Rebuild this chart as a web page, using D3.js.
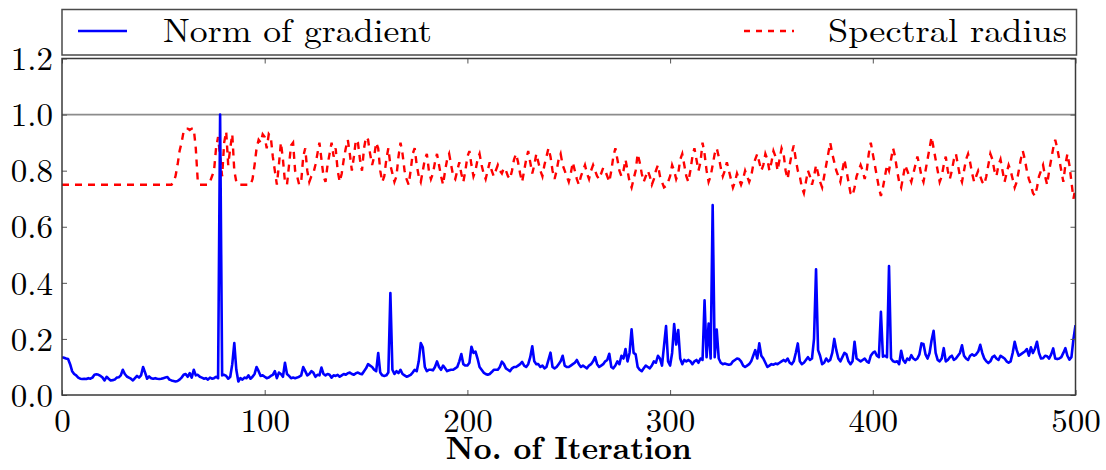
<!DOCTYPE html>
<html>
<head>
<meta charset="utf-8">
<script src="https://cdn.jsdelivr.net/npm/d3@7"></script>
<style>
  body { margin: 0; background: #fff; }
  text { font-family: "Latin Modern Roman", "CMU Serif", "Liberation Serif", serif; fill: #000; }
</style>
</head>
<body>
<script>
// iteration values, one per iteration 0..500
var gradNorm = [
  0.135, 0.133, 0.130, 0.128, 0.110, 0.085, 0.075, 0.070, 0.062, 0.058,
  0.057, 0.058, 0.057, 0.060, 0.058, 0.062, 0.072, 0.074, 0.072, 0.068,
  0.062, 0.052, 0.065, 0.058, 0.052, 0.053, 0.055, 0.062, 0.063, 0.070,
  0.090, 0.075, 0.066, 0.062, 0.058, 0.052, 0.060, 0.068, 0.062, 0.070,
  0.100, 0.080, 0.058, 0.066, 0.060, 0.058, 0.060, 0.058, 0.057, 0.058,
  0.060, 0.062, 0.064, 0.055, 0.052, 0.050, 0.048, 0.050, 0.055, 0.062,
  0.072, 0.075, 0.065, 0.078, 0.062, 0.090, 0.070, 0.072, 0.065, 0.062,
  0.058, 0.060, 0.055, 0.062, 0.058, 0.060, 0.065, 0.060, 1.000, 0.070,
  0.072, 0.068, 0.058, 0.065, 0.110, 0.185, 0.090, 0.048, 0.060, 0.055,
  0.062, 0.060, 0.070, 0.058, 0.065, 0.075, 0.100, 0.085, 0.068, 0.070,
  0.065, 0.060, 0.062, 0.068, 0.072, 0.085, 0.060, 0.080, 0.075, 0.065,
  0.115, 0.075, 0.068, 0.060, 0.062, 0.060, 0.062, 0.065, 0.070, 0.100,
  0.085, 0.070, 0.075, 0.085, 0.080, 0.065, 0.072, 0.070, 0.098, 0.075,
  0.070, 0.075, 0.072, 0.062, 0.070, 0.068, 0.072, 0.065, 0.070, 0.075,
  0.072, 0.078, 0.080, 0.075, 0.072, 0.078, 0.080, 0.076, 0.074, 0.085,
  0.095, 0.110, 0.105, 0.100, 0.090, 0.085, 0.150, 0.080, 0.070, 0.068,
  0.070, 0.080, 0.364, 0.090, 0.075, 0.085, 0.078, 0.090, 0.075, 0.070,
  0.065, 0.068, 0.072, 0.080, 0.090, 0.085, 0.120, 0.185, 0.170, 0.100,
  0.085, 0.090, 0.090, 0.088, 0.100, 0.120, 0.100, 0.090, 0.105, 0.095,
  0.085, 0.088, 0.090, 0.090, 0.095, 0.100, 0.120, 0.146, 0.110, 0.105,
  0.105, 0.115, 0.172, 0.150, 0.155, 0.130, 0.100, 0.090, 0.080, 0.075,
  0.072, 0.075, 0.082, 0.090, 0.090, 0.090, 0.100, 0.119, 0.110, 0.095,
  0.090, 0.085, 0.095, 0.100, 0.100, 0.105, 0.110, 0.118, 0.105, 0.100,
  0.110, 0.135, 0.174, 0.120, 0.110, 0.110, 0.100, 0.105, 0.095, 0.100,
  0.125, 0.151, 0.100, 0.095, 0.100, 0.110, 0.120, 0.140, 0.105, 0.100,
  0.100, 0.105, 0.110, 0.115, 0.125, 0.110, 0.100, 0.105, 0.100, 0.095,
  0.105, 0.110, 0.120, 0.135, 0.110, 0.100, 0.105, 0.110, 0.120, 0.125,
  0.147, 0.100, 0.095, 0.105, 0.120, 0.110, 0.140, 0.130, 0.164, 0.120,
  0.150, 0.234, 0.150, 0.145, 0.100, 0.090, 0.085, 0.095, 0.105, 0.100,
  0.095, 0.105, 0.120, 0.115, 0.140, 0.130, 0.105, 0.175, 0.246, 0.120,
  0.105, 0.150, 0.253, 0.180, 0.232, 0.130, 0.110, 0.125, 0.120, 0.125,
  0.120, 0.110, 0.120, 0.125, 0.115, 0.130, 0.125, 0.338, 0.135, 0.255,
  0.130, 0.677, 0.135, 0.233, 0.130, 0.115, 0.110, 0.112, 0.110, 0.108,
  0.110, 0.120, 0.125, 0.130, 0.128, 0.120, 0.105, 0.100, 0.105, 0.110,
  0.120, 0.140, 0.160, 0.130, 0.184, 0.140, 0.130, 0.115, 0.100, 0.105,
  0.110, 0.108, 0.112, 0.110, 0.115, 0.120, 0.125, 0.120, 0.130, 0.115,
  0.110, 0.120, 0.150, 0.184, 0.120, 0.110, 0.115, 0.125, 0.135, 0.125,
  0.130, 0.200, 0.448, 0.160, 0.140, 0.110, 0.115, 0.130, 0.120, 0.125,
  0.150, 0.200, 0.160, 0.130, 0.120, 0.135, 0.150, 0.145, 0.120, 0.110,
  0.120, 0.190, 0.130, 0.125, 0.120, 0.125, 0.130, 0.120, 0.115, 0.140,
  0.150, 0.155, 0.140, 0.135, 0.297, 0.137, 0.140, 0.135, 0.460, 0.130,
  0.120, 0.118, 0.120, 0.110, 0.158, 0.125, 0.115, 0.130, 0.125, 0.142,
  0.130, 0.125, 0.130, 0.145, 0.184, 0.182, 0.145, 0.130, 0.150, 0.195,
  0.229, 0.150, 0.125, 0.120, 0.130, 0.167, 0.120, 0.125, 0.135, 0.140,
  0.125, 0.130, 0.140, 0.150, 0.177, 0.140, 0.130, 0.125, 0.140, 0.145,
  0.140, 0.145, 0.155, 0.179, 0.150, 0.130, 0.120, 0.114, 0.120, 0.135,
  0.140, 0.130, 0.125, 0.140, 0.135, 0.130, 0.120, 0.115, 0.120, 0.150,
  0.190, 0.160, 0.140, 0.145, 0.150, 0.155, 0.164, 0.140, 0.170, 0.150,
  0.165, 0.190, 0.150, 0.130, 0.131, 0.140, 0.138, 0.130, 0.145, 0.166,
  0.130, 0.128, 0.130, 0.135, 0.150, 0.167, 0.140, 0.126, 0.135, 0.200,
  0.249
];

var specRadius = [
  0.75, 0.75, 0.75, 0.75, 0.75, 0.75, 0.75, 0.75, 0.75, 0.75,
  0.75, 0.75, 0.75, 0.75, 0.75, 0.75, 0.75, 0.75, 0.75, 0.75,
  0.75, 0.75, 0.75, 0.75, 0.75, 0.75, 0.75, 0.75, 0.75, 0.75,
  0.75, 0.75, 0.75, 0.75, 0.75, 0.75, 0.75, 0.75, 0.75, 0.75,
  0.75, 0.75, 0.75, 0.75, 0.75, 0.75, 0.75, 0.75, 0.75, 0.75,
  0.75, 0.75, 0.75, 0.75, 0.75, 0.76, 0.78, 0.82, 0.87, 0.90,
  0.94, 0.95, 0.95, 0.945, 0.95, 0.95, 0.88, 0.76, 0.75, 0.75,
  0.75, 0.75, 0.75, 0.76, 0.78, 0.80, 0.88, 0.92, 0.85, 0.78,
  0.90, 0.94, 0.82, 0.88, 0.93, 0.80, 0.76, 0.75, 0.75, 0.75,
  0.75, 0.75, 0.75, 0.75, 0.77, 0.82, 0.88, 0.91, 0.90, 0.93,
  0.92, 0.88, 0.93, 0.92, 0.85, 0.80, 0.75, 0.82, 0.90, 0.84,
  0.76, 0.75, 0.82, 0.89, 0.90, 0.80, 0.78, 0.75, 0.76, 0.85,
  0.88, 0.80, 0.76, 0.78, 0.79, 0.82, 0.86, 0.90, 0.84, 0.78,
  0.76, 0.82, 0.86, 0.90, 0.85, 0.88, 0.80, 0.76, 0.79, 0.84,
  0.88, 0.91, 0.86, 0.80, 0.85, 0.91, 0.90, 0.84, 0.80, 0.88,
  0.92, 0.91, 0.86, 0.82, 0.85, 0.90, 0.88, 0.80, 0.76, 0.78,
  0.84, 0.88, 0.82, 0.79, 0.76, 0.78, 0.85, 0.90, 0.86, 0.80,
  0.77, 0.75, 0.80, 0.86, 0.88, 0.82, 0.78, 0.76, 0.80, 0.84,
  0.86, 0.80, 0.77, 0.79, 0.83, 0.86, 0.82, 0.78, 0.75, 0.80,
  0.84, 0.86, 0.82, 0.78, 0.77, 0.80, 0.83, 0.79, 0.76, 0.80,
  0.85, 0.87, 0.82, 0.78, 0.80, 0.84, 0.86, 0.82, 0.79, 0.77,
  0.80, 0.83, 0.80, 0.78, 0.80, 0.82, 0.80, 0.79, 0.81, 0.80,
  0.78, 0.77, 0.80, 0.84, 0.86, 0.83, 0.79, 0.76, 0.80, 0.84,
  0.87, 0.83, 0.79, 0.82, 0.86, 0.83, 0.80, 0.78, 0.82, 0.85,
  0.88, 0.85, 0.80, 0.77, 0.80, 0.84, 0.86, 0.82, 0.80, 0.78,
  0.76, 0.79, 0.83, 0.80, 0.77, 0.75, 0.78, 0.80, 0.82, 0.79,
  0.77, 0.80, 0.82, 0.80, 0.78, 0.77, 0.79, 0.81, 0.80, 0.78,
  0.76, 0.80, 0.85, 0.88, 0.84, 0.80, 0.78, 0.80, 0.84, 0.80,
  0.76, 0.74, 0.77, 0.80, 0.86, 0.83, 0.79, 0.76, 0.78, 0.80,
  0.78, 0.75, 0.77, 0.80, 0.82, 0.78, 0.76, 0.74, 0.745, 0.76,
  0.78, 0.82, 0.80, 0.77, 0.79, 0.84, 0.86, 0.82, 0.78, 0.76,
  0.80, 0.85, 0.88, 0.84, 0.80, 0.83, 0.90, 0.86, 0.80, 0.76,
  0.78, 0.82, 0.86, 0.88, 0.85, 0.81, 0.78, 0.80, 0.83, 0.80,
  0.77, 0.74, 0.76, 0.79, 0.77, 0.75, 0.77, 0.80, 0.78, 0.76,
  0.78, 0.82, 0.84, 0.86, 0.83, 0.80, 0.82, 0.86, 0.84, 0.80,
  0.83, 0.87, 0.85, 0.80, 0.84, 0.88, 0.86, 0.80, 0.77, 0.82,
  0.86, 0.89, 0.84, 0.80, 0.78, 0.74, 0.72, 0.76, 0.80, 0.78,
  0.75, 0.78, 0.82, 0.79, 0.76, 0.74, 0.78, 0.82, 0.86, 0.90,
  0.86, 0.83, 0.80, 0.78, 0.76, 0.80, 0.84, 0.80, 0.76, 0.72,
  0.71, 0.74, 0.78, 0.80, 0.82, 0.80, 0.77, 0.80, 0.86, 0.90,
  0.86, 0.82, 0.78, 0.74, 0.71, 0.74, 0.78, 0.82, 0.80, 0.84,
  0.88, 0.85, 0.80, 0.76, 0.74, 0.78, 0.82, 0.80, 0.78, 0.76,
  0.79, 0.82, 0.85, 0.82, 0.78, 0.76, 0.80, 0.84, 0.88, 0.92,
  0.88, 0.84, 0.80, 0.76, 0.78, 0.82, 0.85, 0.80, 0.77, 0.80,
  0.84, 0.86, 0.82, 0.78, 0.76, 0.80, 0.84, 0.86, 0.83, 0.79,
  0.76, 0.78, 0.80, 0.78, 0.76, 0.75, 0.78, 0.82, 0.86, 0.84,
  0.80, 0.78, 0.82, 0.84, 0.80, 0.76, 0.79, 0.82, 0.80, 0.77,
  0.74, 0.76, 0.80, 0.84, 0.87, 0.84, 0.80, 0.77, 0.75, 0.72,
  0.71, 0.74, 0.78, 0.80, 0.82, 0.78, 0.75, 0.80, 0.84, 0.88,
  0.91, 0.88, 0.84, 0.80, 0.76, 0.82, 0.86, 0.82, 0.76, 0.70,
  0.74
];

var xTicks = [0, 100, 200, 300, 400, 500];
var yTicks = [0, 0.2, 0.4, 0.6, 0.8, 1.0, 1.2];
var seriesNames = ['Norm of gradient', 'Spectral radius'];

var W = 1106, H = 470;
var mLeft = 62, mRight = 1075.5, mTop = 58.5, mBottom = 395;

var svg = d3.select('body').append('svg')
   .attr('width', W)
   .attr('height', H);

var x = d3.scaleLinear().domain([0, 500]).range([mLeft, mRight]);
var y = d3.scaleLinear().domain([0, 1.2]).range([mBottom, mTop]);

svg.append('defs').append('clipPath')
    .attr('id', 'clip')
  .append('rect')
    .attr('x', mLeft)
    .attr('y', mTop)
    .attr('width', mRight - mLeft)
    .attr('height', mBottom - mTop);

// horizontal reference line at 1.0
svg.append('line')
   .attr('x1', mLeft).attr('x2', mRight)
   .attr('y1', y(1)).attr('y2', y(1))
   .attr('stroke', '#8c8c8c')
   .attr('stroke-width', 1.6);

var line = d3.line()
   .x(function(d, i) { return x(i); })
   .y(function(d) { return y(d); });

var plot = svg.append('g').attr('clip-path', 'url(#clip)');

plot.append('path')
   .datum(specRadius)
   .attr('fill', 'none')
   .attr('stroke', '#ff0000')
   .attr('stroke-width', 2.4)
   .attr('stroke-dasharray', '7,6')
   .attr('d', line);

plot.append('path')
   .datum(gradNorm)
   .attr('fill', 'none')
   .attr('stroke', '#0000ff')
   .attr('stroke-width', 2.6)
   .attr('stroke-linejoin', 'round')
   .attr('d', line);

// axes with inward ticks on all four sides
function tickAxis(axis, tx, ty) {
  var g = svg.append('g').attr('transform', 'translate(' + tx + ',' + ty + ')').call(axis);
  g.select('.domain').remove();
  g.selectAll('.tick line').attr('stroke', '#555').attr('stroke-width', 1);
  return g;
}

var gx = tickAxis(d3.axisBottom(x).tickValues(xTicks).tickSizeInner(-5).tickSizeOuter(0).tickPadding(11), 0, mBottom);
gx.selectAll('.tick text')
   .style('font-size', '33px')
   .attr('dy', '0.78em');
tickAxis(d3.axisTop(x).tickValues(xTicks).tickSizeInner(-5).tickSizeOuter(0).tickFormat(''), 0, mTop);

var gy = tickAxis(d3.axisLeft(y).tickValues(yTicks).tickSizeInner(-5).tickSizeOuter(0).tickPadding(9)
   .tickFormat(d3.format('.1f')), mLeft, 0);
gy.selectAll('.tick text')
   .style('font-size', '33px')
   .attr('dy', '0.34em');
tickAxis(d3.axisRight(y).tickValues(yTicks).tickSizeInner(-5).tickSizeOuter(0).tickFormat(''), mRight, 0);

svg.selectAll('.tick text').attr('fill', '#000').style('font-family', '"Latin Modern Roman", "CMU Serif", "Liberation Serif", serif');

// plot frame
svg.append('rect')
   .attr('x', mLeft).attr('y', mTop)
   .attr('width', mRight - mLeft).attr('height', mBottom - mTop)
   .attr('fill', 'none')
   .attr('stroke', '#3a3a3a')
   .attr('stroke-width', 1.5);

svg.append('text')
   .attr('x', (mLeft + mRight) / 2)
   .attr('y', 459)
   .attr('text-anchor', 'middle')
   .attr('textLength', 246)
   .attr('lengthAdjust', 'spacingAndGlyphs')
   .style('font-size', '32px')
   .style('font-weight', 'bold')
   .text('No. of Iteration');

// legend, expanded over the plot width
var leg = svg.append('g');
leg.append('rect')
   .attr('x', mLeft).attr('y', 9.5)
   .attr('width', mRight - mLeft + 1).attr('height', 45.5)
   .attr('fill', '#fff')
   .attr('stroke', '#4a4a4a')
   .attr('stroke-width', 1.5);
leg.append('line')
   .attr('x1', 78).attr('x2', 127).attr('y1', 31).attr('y2', 31)
   .attr('stroke', '#0000ff').attr('stroke-width', 2.4);
leg.append('text')
   .attr('x', 163).attr('y', 42)
   .attr('textLength', 269)
   .attr('lengthAdjust', 'spacingAndGlyphs')
   .style('font-size', '33px')
   .text(seriesNames[0]);
leg.append('line')
   .attr('x1', 744).attr('x2', 794).attr('y1', 31).attr('y2', 31)
   .attr('stroke', '#ff0000').attr('stroke-width', 2.4)
   .attr('stroke-dasharray', '6,6');
leg.append('text')
   .attr('x', 1067).attr('y', 42)
   .attr('text-anchor', 'end')
   .attr('textLength', 239)
   .attr('lengthAdjust', 'spacingAndGlyphs')
   .style('font-size', '33px')
   .text(seriesNames[1]);
</script>
</body>
</html>
